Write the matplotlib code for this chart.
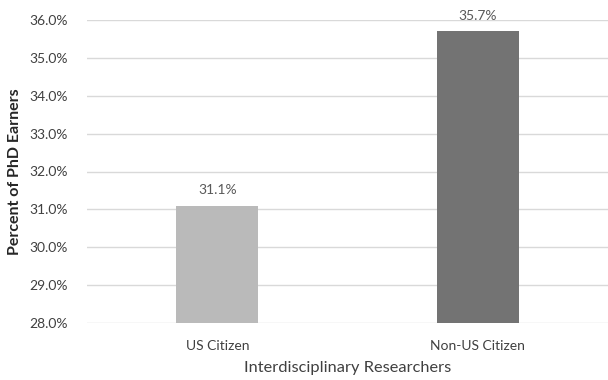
import matplotlib
matplotlib.use('Agg')
import matplotlib.pyplot as plt
from matplotlib.ticker import PercentFormatter

# data
categories = ['US Citizen', 'Non-US Citizen']
percents = [31.1, 35.7]
bar_colors = ['#bababa', '#737373']

plt.rcParams['font.family'] = ['Lato', 'DejaVu Sans']

fig = plt.figure(figsize=(6.08, 3.8), dpi=100)
ax = fig.add_axes([87/608, 57/380, 521/608, 303/380])

x = range(len(categories))
bars = ax.bar(x, [p - 28 for p in percents], bottom=28, width=0.314,
              color=bar_colors, zorder=3)

for b, p in zip(bars, percents):
    ax.annotate('%.1f%%' % p, (b.get_x() + b.get_width()/2, p),
                xytext=(0, 7), textcoords='offset points',
                ha='center', va='bottom', fontsize=10, color='#595959')

ax.set_xlim(-0.5, 1.5)
ax.set_ylim(28, 36)
ax.set_yticks(range(28, 37))
ax.yaxis.set_major_formatter(PercentFormatter(decimals=1))
ax.set_xticks(list(x))
ax.set_xticklabels(categories)
ax.tick_params(axis='both', length=0, labelsize=10, labelcolor='#404040')
ax.tick_params(axis='y', pad=14)
ax.tick_params(axis='x', pad=12)

ax.grid(axis='y', color='#d9d9d9', linewidth=1.0, zorder=0)
for s in ax.spines.values():
    s.set_visible(False)

ax.set_xlabel('Interdisciplinary Researchers', fontsize=11.8, color='#404040', labelpad=7)
ax.set_ylabel('Percent of PhD Earners', fontsize=11.5, fontweight='bold', color='#262626', labelpad=5)

fig.savefig('out.png', dpi=100)
